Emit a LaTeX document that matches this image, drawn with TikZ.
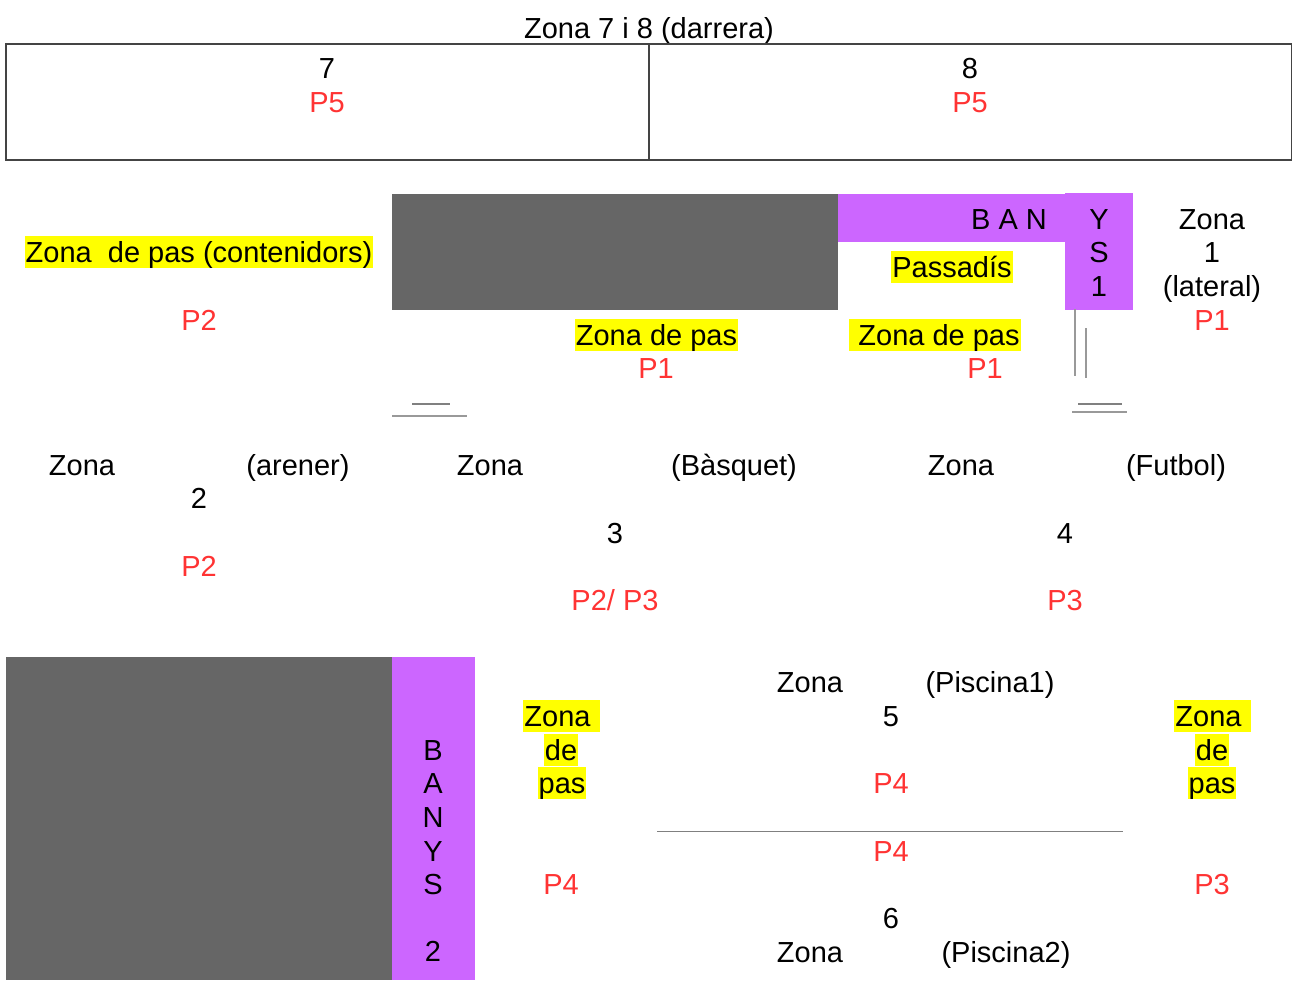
\documentclass[tikz,border=0pt]{standalone}
\usepackage{fontspec}
\setmainfont{Liberation Sans}
\definecolor{zonered}{HTML}{FF3333}
\definecolor{zonegray}{HTML}{666666}
\definecolor{bathviolet}{HTML}{CC66FF}
\definecolor{passyellow}{HTML}{FFFF00}
\definecolor{framegray}{HTML}{444444}
\definecolor{thingray}{HTML}{999999}
\begin{document}
\begin{tikzpicture}[x=1pt,y=-1pt,
  txt/.style={anchor=base,inner sep=0pt,font=\fontsize{29}{34}\selectfont,text=black},
  ptxt/.style={txt,text=zonered},
  hl/.style={txt,fill=passyellow,text height=26.2pt,text depth=6.1pt,inner xsep=1pt},
  block/.style={fill=zonegray,draw=none},
  bath/.style={fill=bathviolet,draw=none},
  frame/.style={draw=framegray,line width=1.1pt},
  thin/.style={draw=thingray,line width=1.4pt},
  sep/.style={draw=gray,line width=1pt}]
\useasboundingbox (0,0) rectangle (1292,980);

% ---- zones 7 and 8 (back)
\node[txt] (t78) at (649,38) {Zona 7 i 8 (darrera)};
\draw[frame] (6,44) rectangle (1292,160);
\draw[frame] (649,44) -- (649,160);
\node[txt] (n7) at (327,78) {7};
\node[ptxt] (p7) at (327,112) {P5};
\node[txt] (n8) at (970,78) {8};
\node[ptxt] (p8) at (970,112) {P5};

% ---- upper blocks and baths 1
\fill[block] (392,194) rectangle (838,310);
\fill[bath] (838,194) rectangle (1065,242);
\fill[bath] (1065,193) rectangle (1133,310);
\node[txt] (ban) at (1009,229) {B A N};
\node[txt] (by) at (1099,229) {Y};
\node[txt] (bs) at (1099,262) {S};
\node[txt] (b1) at (1099,296) {1};
\node[hl] (passadis) at (952,277) {Passadís};

\node[hl] (contenidors) at (199,262) {Zona~~de pas (contenidors)};
\node[ptxt] (pcont) at (199,330) {P2};
\node[hl] (pasA) at (656.5,345) {Zona de pas};
\node[ptxt] (pA) at (656,378) {P1};
\node[hl] (pasB) at (935,345) {\kern0.278em Zona de pas};
\node[ptxt] (pB) at (985,378) {P1};

\node[txt] (z1a) at (1212,229) {Zona};
\node[txt] (z1b) at (1212,262) {1};
\node[txt] (z1c) at (1212,296) {(lateral)};
\node[ptxt] (z1p) at (1212,330) {P1};

% ---- small marks
\coordinate (m1a) at (412,404); \coordinate (m1b) at (450,404);
\coordinate (m2a) at (392,416); \coordinate (m2b) at (467,416);
\draw[thin,draw=gray] (m1a) -- (m1b);
\draw[thin] (m2a) -- (m2b);
\coordinate (v1a) at (1075,309); \coordinate (v1b) at (1075,376);
\coordinate (v2a) at (1086,328); \coordinate (v2b) at (1086,378);
\draw[thin] (v1a) -- (v1b);
\draw[thin] (v2a) -- (v2b);
\coordinate (h1a) at (1078,404); \coordinate (h1b) at (1122,404);
\coordinate (h2a) at (1072,412); \coordinate (h2b) at (1127,412);
\draw[thin,draw=gray] (h1a) -- (h1b);
\draw[thin] (h2a) -- (h2b);

% ---- zones 2, 3, 4
\node[txt] (z2a) at (82,475) {Zona};
\node[txt] (z2b) at (298,475) {(arener)};
\node[txt] (z2c) at (199,508) {2};
\node[ptxt] (z2p) at (199,576) {P2};

\node[txt] (z3a) at (490,475) {Zona};
\node[txt] (z3b) at (734,475) {(Bàsquet)};
\node[txt] (z3c) at (615,543) {3};
\node[ptxt] (z3p) at (615,610) {P2/ P3};

\node[txt] (z4a) at (961,475) {Zona};
\node[txt] (z4b) at (1176,475) {(Futbol)};
\node[txt] (z4c) at (1065,543) {4};
\node[ptxt] (z4p) at (1065,610) {P3};

% ---- lower block and baths 2
\fill[block] (6,657) rectangle (392,980);
\fill[bath] (392,657) rectangle (475,980);
\node[txt] (l1) at (433,760) {B};
\node[txt] (l2) at (433,793) {A};
\node[txt] (l3) at (433,827) {N};
\node[txt] (l4) at (433,861) {Y};
\node[txt] (l5) at (433,894) {S};
\node[txt] (l6) at (433,961) {2};

\node[hl] (lp1) at (561.5,726) {Zona\kern0.278em};
\node[hl] (lp2) at (561,760) {de};
\node[hl] (lp3) at (562,793) {pas};
\node[ptxt] (lpp) at (561,894) {P4};

\node[hl] (rp1) at (1212.5,726) {Zona\kern0.278em};
\node[hl] (rp2) at (1212,760) {de};
\node[hl] (rp3) at (1212,793) {pas};
\node[ptxt] (rpp) at (1212,894) {P3};

% ---- pools 5 and 6
\node[txt] (z5a) at (810,692) {Zona};
\node[txt] (z5b) at (990,692) {(Piscina1)};
\node[txt] (z5c) at (891,726) {5};
\node[ptxt] (z5p) at (891,793) {P4};
\coordinate (sa) at (657,831); \coordinate (sb) at (1123,831);
\draw[sep] (sa) -- (sb);
\node[ptxt] (z6p) at (891,861) {P4};
\node[txt] (z6c) at (891,928) {6};
\node[txt] (z6a) at (810,962) {Zona};
\node[txt] (z6b) at (1006,962) {(Piscina2)};
\end{tikzpicture}
\end{document}
